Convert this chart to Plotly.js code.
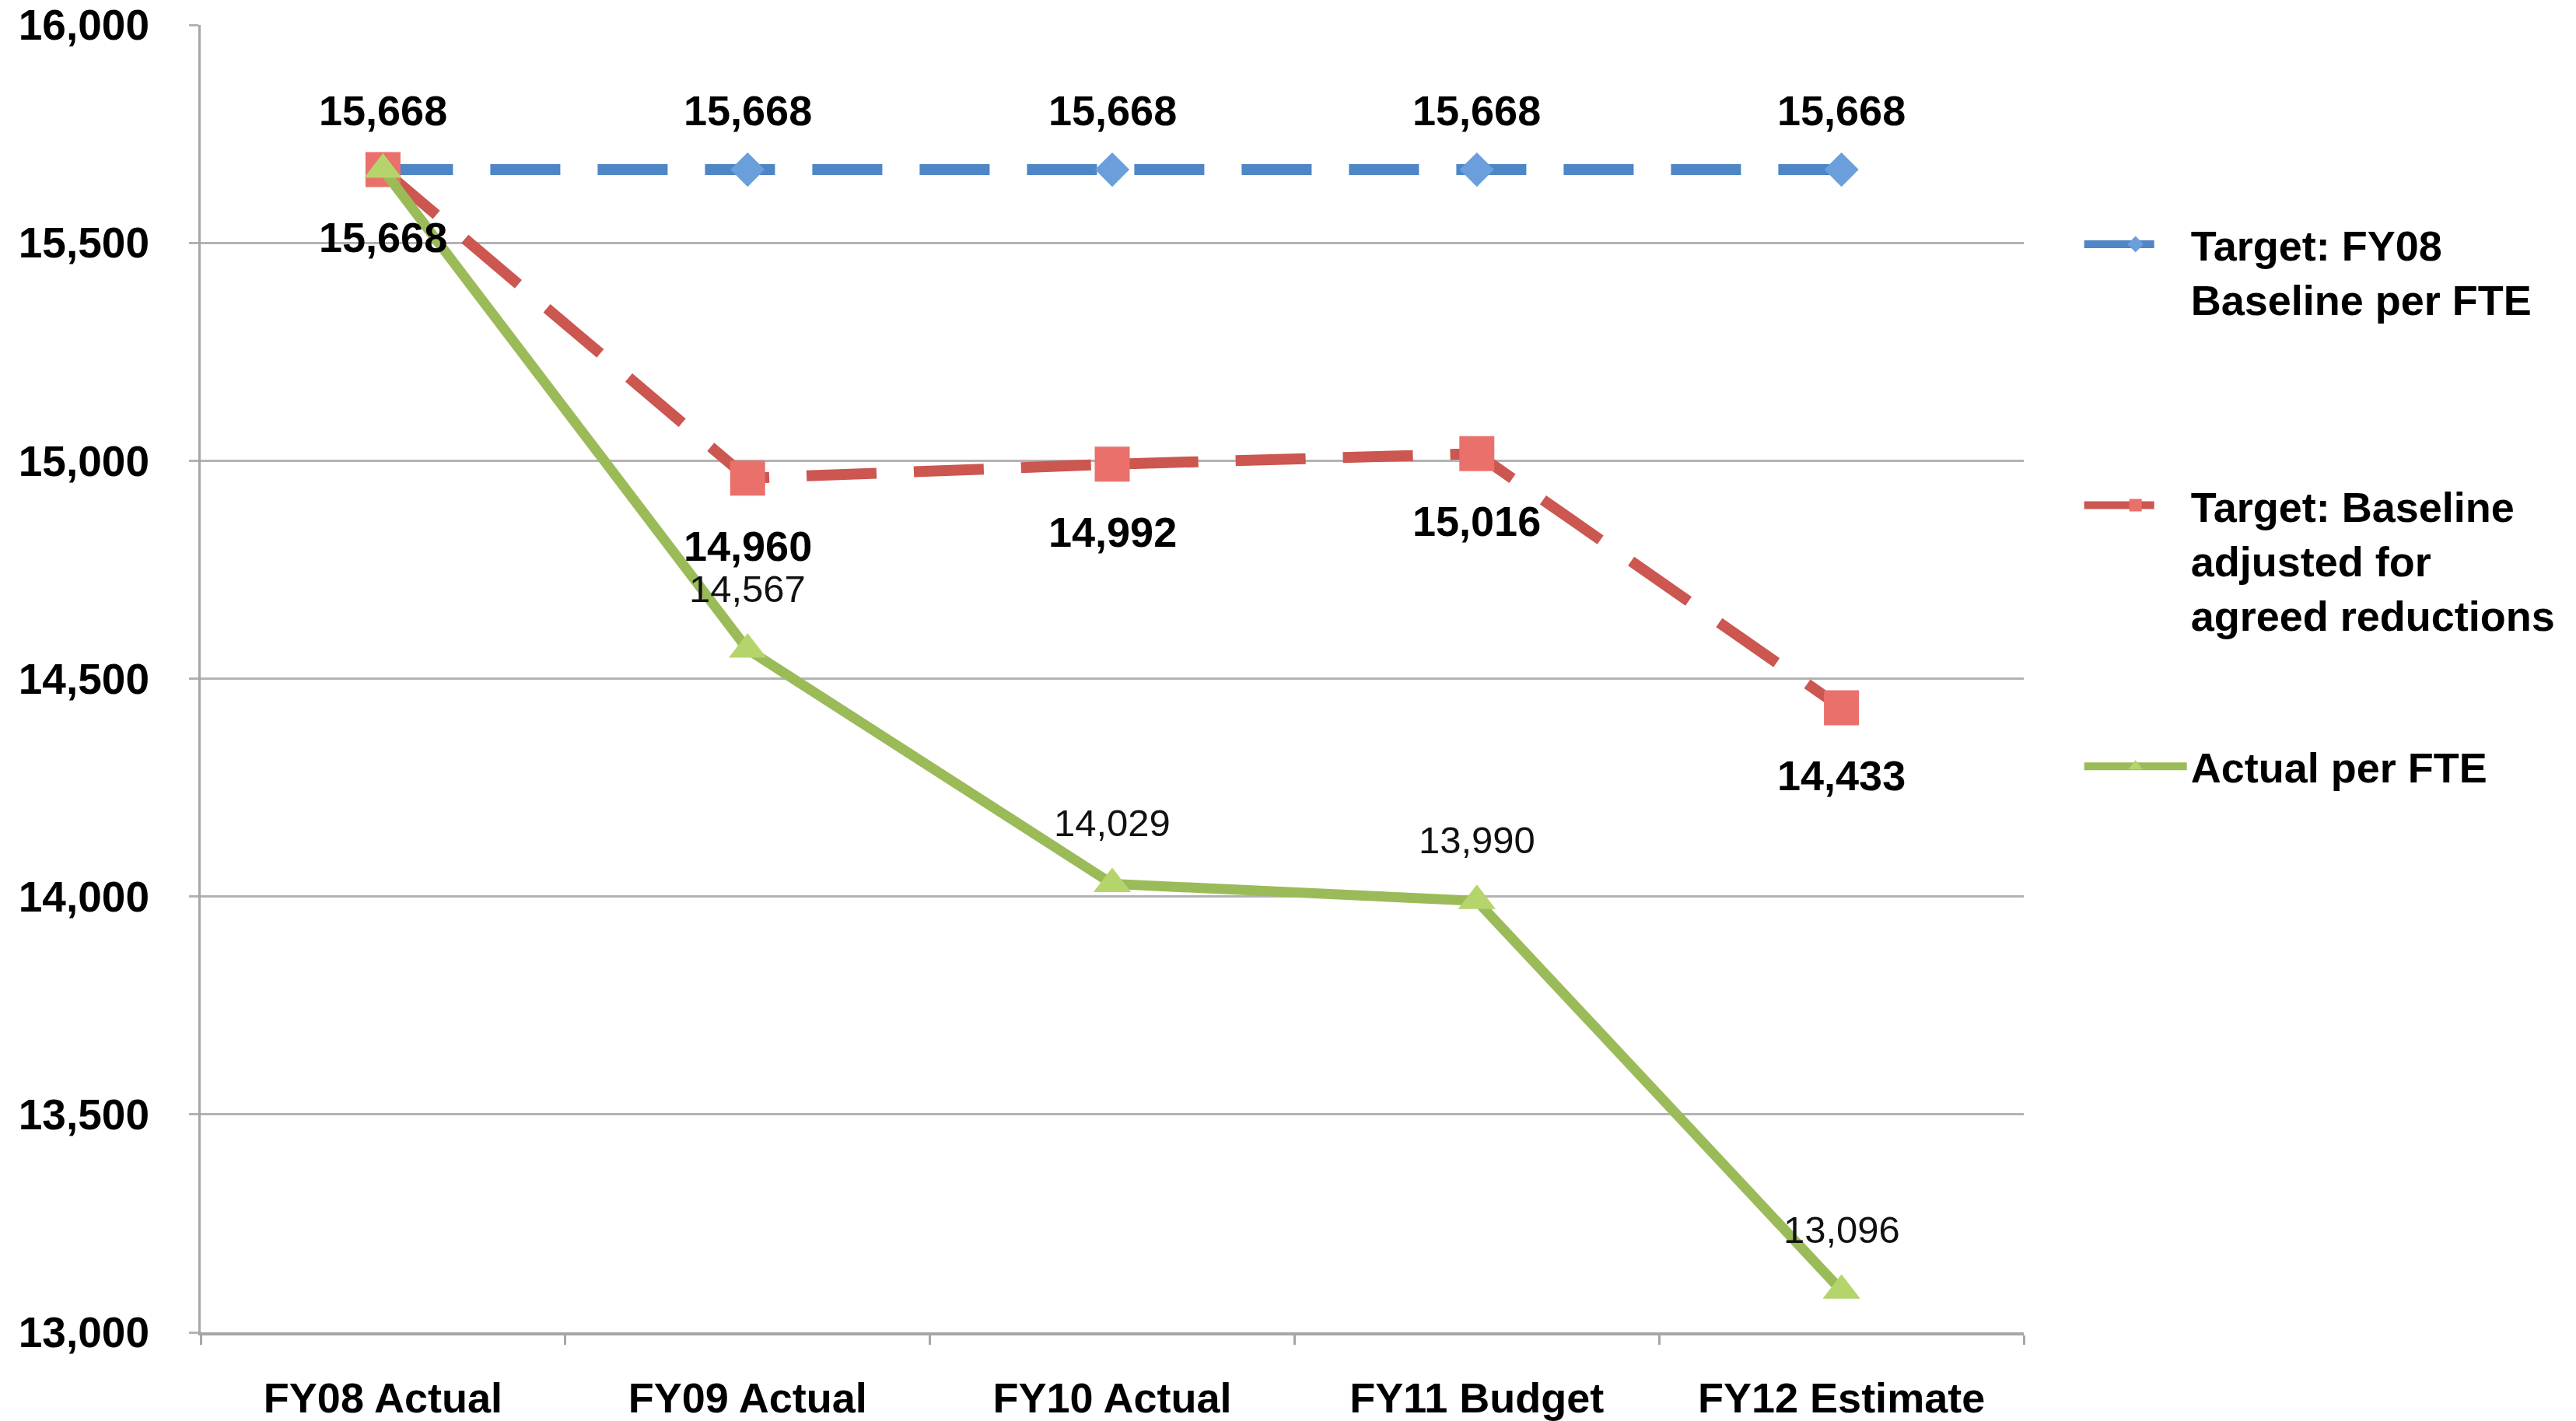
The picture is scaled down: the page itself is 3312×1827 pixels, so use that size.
<!DOCTYPE html>
<html>
<head>
<meta charset="utf-8">
<script src="https://cdn.plot.ly/plotly-3.0.1.min.js"></script>
<style>html,body{margin:0;padding:0;background:#fff;}#chart{width:3312px;height:1827px;}</style>
</head>
<body>
<div id="chart"></div>
<script>
const categories = ['FY08 Actual', 'FY09 Actual', 'FY10 Actual', 'FY11 Budget', 'FY12 Estimate'];
const baselineFY08 = [15668, 15668, 15668, 15668, 15668];
const adjustedBaseline = [15668, 14960, 14992, 15016, 14433];
const actualPerFTE = [15668, 14567, 14029, 13990, 13096];
const actualLabelShown = [false, true, true, true, true];
const yTickValues = [13000, 13500, 14000, 14500, 15000, 15500, 16000];
const seriesNames = ['Target: FY08<br>Baseline per FTE<br> ', 'Target: Baseline<br>adjusted for<br>agreed reductions', 'Actual per FTE'];

const fmt = v => v.toLocaleString('en-US');
const FONT = 'Liberation Sans, Arial, sans-serif';

const traces = [
  {
    x: categories, y: baselineFY08, name: seriesNames[0], legendgroup: 'a',
    type: 'scatter', mode: 'lines+markers',
    line: {color: '#4f86c6', width: 14, dash: '90px,48px'},
    marker: {symbol: 'diamond', size: 34, color: '#6a9fdc'}
  },
  {
    x: categories, y: adjustedBaseline, name: seriesNames[1], legendgroup: 'b',
    type: 'scatter', mode: 'lines+markers',
    line: {color: '#cc5650', width: 14, dash: '90px,48px'},
    marker: {symbol: 'square', size: 45, color: '#ea706b'}
  },
  {
    x: categories, y: actualPerFTE, name: seriesNames[2], legendgroup: 'c',
    type: 'scatter', mode: 'lines+markers',
    line: {color: '#9bbb59', width: 13},
    marker: {symbol: 'triangle-up', size: 42, color: '#b5d56c'}
  }
];

const annotations = [];
categories.forEach((c, i) => {
  annotations.push({x: c, y: baselineFY08[i], xref: 'x', yref: 'y', text: fmt(baselineFY08[i]),
    showarrow: false, yshift: 76, font: {family: FONT, size: 54, color: '#000', weight: 'bold'}});
  annotations.push({x: c, y: adjustedBaseline[i], xref: 'x', yref: 'y', text: fmt(adjustedBaseline[i]),
    showarrow: false, yshift: -87, font: {family: FONT, size: 54, color: '#000', weight: 'bold'}});
  if (actualLabelShown[i]) {
    annotations.push({x: c, y: actualPerFTE[i], xref: 'x', yref: 'y', text: fmt(actualPerFTE[i]),
      showarrow: false, yshift: 78, font: {family: FONT, size: 49, color: '#111'}});
  }
});

const layout = {
  width: 3312, height: 1827,
  margin: {l: 258, r: 710, t: 32, b: 114, pad: 0},
  paper_bgcolor: '#ffffff', plot_bgcolor: '#ffffff',
  font: {family: FONT, size: 54, color: '#000'},
  showlegend: true,
  legend: {
    x: 1.031, y: 0.857, xanchor: 'left', yanchor: 'top',
    font: {family: FONT, size: 54, color: '#000', weight: 'bold'},
    tracegroupgap: 122, valign: 'top', itemwidth: 132,
    bgcolor: 'rgba(0,0,0,0)'
  },
  xaxis: {
    type: 'category', range: [-0.5, 4.5],
    showgrid: false, showline: true, linecolor: '#a6a6a6', linewidth: 4,
    ticks: 'outside', tickson: 'boundaries', ticklen: 12, tickwidth: 3, tickcolor: '#a6a6a6',
    tickfont: {family: FONT, size: 54, color: '#000', weight: 'bold'},
    ticklabelstandoff: 34, zeroline: false
  },
  yaxis: {
    range: [13000, 16000], tickvals: yTickValues, ticktext: yTickValues.map(fmt),
    showgrid: true, gridcolor: '#b3b3b3', gridwidth: 3,
    showline: true, linecolor: '#a6a6a6', linewidth: 3,
    ticks: 'outside', ticklen: 12, tickwidth: 3, tickcolor: '#b3b3b3',
    tickfont: {family: FONT, size: 55, color: '#000', weight: 'bold'},
    ticklabelstandoff: 40, zeroline: false
  },
  annotations: annotations
};

Plotly.newPlot('chart', traces, layout, {staticPlot: true});
</script>
</body>
</html>
